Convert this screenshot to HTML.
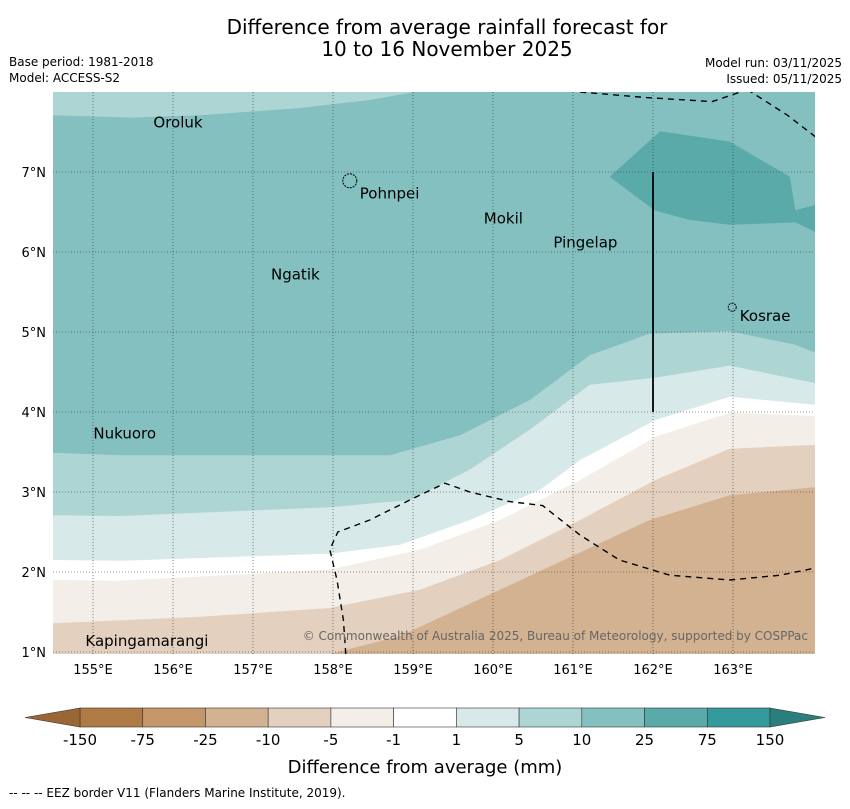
<!DOCTYPE html>
<html><head><meta charset="utf-8"><style>
body{margin:0;background:#fff;font-family:"Liberation Sans","DejaVu Sans",sans-serif}
svg text{font-family:"DejaVu Sans","Liberation Sans",sans-serif}
</style></head><body>
<svg id="chart" width="850" height="804" viewBox="0 0 850 804" xmlns="http://www.w3.org/2000/svg">
<text x="447" y="34" font-size="20" text-anchor="middle">Difference from average rainfall forecast for</text>
<text x="447" y="56" font-size="20" text-anchor="middle">10 to 16 November 2025</text>
<text x="9" y="66" font-size="12">Base period: 1981-2018</text>
<text x="9" y="82" font-size="12">Model: ACCESS-S2</text>
<text x="842" y="67" font-size="12" text-anchor="end">Model run: 03/11/2025</text>
<text x="842" y="83" font-size="12" text-anchor="end">Issued: 05/11/2025</text>
<g id="map"></g>
<g id="cbar"></g>
<text x="425" y="773" font-size="18" text-anchor="middle">Difference from average (mm)</text>
<text x="9" y="797" font-size="12">--  --  -- EEZ border V11 (Flanders Marine Institute, 2019).</text>
</svg>
<script>
const lonTicks=[155,156,157,158,159,160,161,162,163];
const latTicks=[1,2,3,4,5,6,7];
const levels=[-150,-75,-25,-10,-5,-1,1,5,10,25,75,150];
const levelColors=["#b07a45","#c4966a","#d3b292","#e3d0bf","#f3eee8","#ffffff","#d7e9e8","#add5d4","#83c0bf","#5aaaaa","#33999a"];
const cLon1=[157.96,158.84,160.09,161.96,162.96,164.03];
const cLat1=[0.975,1.2,1.78,2.65,2.96,3.06];
const cLon2=[154.5,156.34,157.96,159.09,160.09,161.09,162.03,162.96,164.03];
const cLat2=[1.36,1.44,1.55,1.78,2.15,2.65,3.15,3.54,3.59];
const cLon3=[154.5,155.34,157.96,159.09,160.09,161.09,162.03,162.96,164.03];
const cLat3=[1.9,1.89,2.03,2.28,2.65,3.15,3.69,3.99,3.95];
const cLon4=[154.5,155.34,157.96,158.84,159.71,160.59,161.09,162.03,162.96,164.03];
const cLat4=[2.15,2.14,2.23,2.34,2.65,3.03,3.4,3.9,4.19,4.09];
const cLon5=[154.5,155.34,157.96,158.96,159.71,160.46,161.21,162.03,162.96,164.03];
const cLat5=[2.71,2.7,2.81,2.9,3.28,3.78,4.34,4.43,4.58,4.36];
const cLon6=[154.5,155.34,158.71,159.59,160.46,161.21,161.96,162.96,163.78,164.03];
const cLat6=[3.49,3.46,3.46,3.71,4.15,4.71,4.98,5.01,4.84,4.74];
const topLon=[154.5,155.47,156.34,157.59,158.46,159.02];
const topLat=[7.71,7.68,7.71,7.8,7.9,8.0];
const patchLon=[161.46,162.09,162.96,163.71,163.78,164.03,164.03,163.78,162.96,162.46,162.02];
const patchLat=[6.94,7.51,7.38,6.94,6.52,6.59,6.25,6.37,6.34,6.40,6.52];
const eezLon=[158.16,158.13,158.05,157.96,158.06,158.46,158.96,159.40,159.71,160.21,160.62,161.09,161.58,162.21,162.96,163.59,164.03];
const eezLat=[0.975,1.4,1.9,2.28,2.5,2.65,2.9,3.11,3.0,2.88,2.83,2.46,2.15,1.96,1.9,1.96,2.05];
const eez2Lon=[161.09,161.92,162.74,163.18];
const eez2Lat=[8.0,7.93,7.88,8.03];
const eez3Lon=[163.18,163.68,164.03];
const eez3Lat=[8.03,7.71,7.44];
const islands=["Oroluk","Pohnpei","Mokil","Pingelap","Ngatik","Kosrae","Nukuoro","Kapingamarangi"];
const islLon=[155.73,158.31,159.86,160.73,157.2,163.06,154.98,154.88];
const islLat=[7.62,6.73,6.42,6.12,5.72,5.2,3.73,1.14];
const shapeNames=["Pohnpei","Kosrae"];
const shapeLon=[158.21,162.99];
const shapeLat=[6.89,5.31];
const shapeR=[7,4];

const X0=53,Y0=92,PX=80,LON0=154.5,LAT0=8;
const x=l=>X0+(l-LON0)*PX, y=l=>Y0+(LAT0-l)*PX;
const NS="http://www.w3.org/2000/svg";
const map=document.getElementById('map');
function el(t,a,p){const e=document.createElementNS(NS,t);for(const k in a)e.setAttribute(k,a[k]);(p||map).appendChild(e);return e;}
const R=x(164.025),B=y(0.975);
const defs=el('clipPath',{id:'clip'});el('rect',{x:X0,y:Y0,width:R-X0,height:B-Y0},defs);
const g=el('g',{'clip-path':'url(#clip)'});
const bg=el('rect',{x:X0,y:Y0,width:R-X0,height:B-Y0,fill:levelColors[2]},g);


function above(lons,lats,col,name){
  let pts=lons.map((l,i)=>x(l)+','+y(lats[i]));
  pts.push(x(lons[lons.length-1])+10+','+(Y0-10),(x(lons[0])-10)+','+(Y0-10),(x(lons[0])-10)+','+y(lats[0]));
  const p=el('polygon',{points:pts.join(' '),fill:col},g);
  
  
}
(function(){const pts=cLon1.map((l,i)=>x(l)+','+y(cLat1[i]));pts.push((R+10)+','+(Y0-10),(X0-10)+','+(Y0-10),(X0-10)+','+(B+10),x(cLon1[0])+','+(B+10));
const p=el('polygon',{points:pts.join(' '),fill:levelColors[3]},g);

})();
above(cLon2,cLat2,levelColors[4],'contour-band-minus5');
above(cLon3,cLat3,levelColors[5],'contour-band-zero');
above(cLon4,cLat4,levelColors[6],'contour-band-1');
above(cLon5,cLat5,levelColors[7],'contour-band-5');
above(cLon6,cLat6,levelColors[8],'contour-band-10');
(function(){const pts=topLon.map((l,i)=>x(l)+','+y(topLat[i]));pts.push(x(159.02)+','+(Y0-10),(X0-10)+','+(Y0-10),(X0-10)+','+y(7.71));
const p=el('polygon',{points:pts.join(' '),fill:levelColors[7]},g);

})();
const patch=el('polygon',{points:patchLon.map((l,i)=>x(l)+','+y(patchLat[i])).join(' '),fill:levelColors[9]},g);


lonTicks.forEach(l=>{const ln=el('line',{x1:x(l),x2:x(l),y1:Y0,y2:B,stroke:'#333','stroke-width':0.6,'stroke-dasharray':'1,2'},g);


const t=el('text',{x:x(l),y:B+20,'font-size':13,'text-anchor':'middle'});t.textContent=l+'°E';

});
latTicks.forEach(l=>{const ln=el('line',{x1:X0,x2:R,y1:y(l),y2:y(l),stroke:'#333','stroke-width':0.6,'stroke-dasharray':'1,2'},g);


const t=el('text',{x:X0-7,y:y(l)+5,'font-size':13,'text-anchor':'end'});t.textContent=l+'°N';

});
[[eezLon,eezLat],[eez2Lon,eez2Lat],[eez3Lon,eez3Lat]].forEach(([a,b])=>{const p=el('polyline',{points:a.map((l,i)=>x(l)+','+y(b[i])).join(' '),fill:'none',stroke:'#000','stroke-width':1.4,'stroke-dasharray':'6,5'},g);

});
const ln=el('line',{x1:x(162),x2:x(162),y1:y(7),y2:y(4),stroke:'#000','stroke-width':1.8},g);


islands.forEach((n,i)=>{const t=el('text',{x:x(islLon[i])+2,y:y(islLat[i])+5,'font-size':15},g);t.textContent=n;

});
shapeNames.forEach((n,i)=>{const d=el('circle',{cx:x(shapeLon[i]),cy:y(shapeLat[i]),r:shapeR[i],fill:'none',stroke:'#000','stroke-width':1,'stroke-dasharray':'2,1'},g);

});
const cr=el('text',{x:808,y:640,'font-size':12,fill:'#666','text-anchor':'end'},g);cr.textContent='© Commonwealth of Australia 2025, Bureau of Meteorology, supported by COSPPac';


const cb=document.getElementById('cbar');
const cx0=80,cw=690/11,cy0=708,ch=19;
levelColors.forEach((c,i)=>{const r=el('rect',{x:cx0+i*cw,y:cy0,width:cw,height:ch,fill:c,stroke:'#333','stroke-width':0.6},cb);

});
const tl=el('polygon',{points:`${cx0},${cy0} 25,${cy0+ch/2} ${cx0},${cy0+ch}`,fill:'#9a6634',stroke:'#333','stroke-width':0.6},cb);


const tr=el('polygon',{points:`${cx0+690},${cy0} 825,${cy0+ch/2} ${cx0+690},${cy0+ch}`,fill:'#2a7f7d',stroke:'#333','stroke-width':0.6},cb);


levels.forEach((v,i)=>{const t=el('text',{x:cx0+i*cw,y:745,'font-size':15,'text-anchor':'middle'},cb);t.textContent=v;

});
</script>
</body></html>
